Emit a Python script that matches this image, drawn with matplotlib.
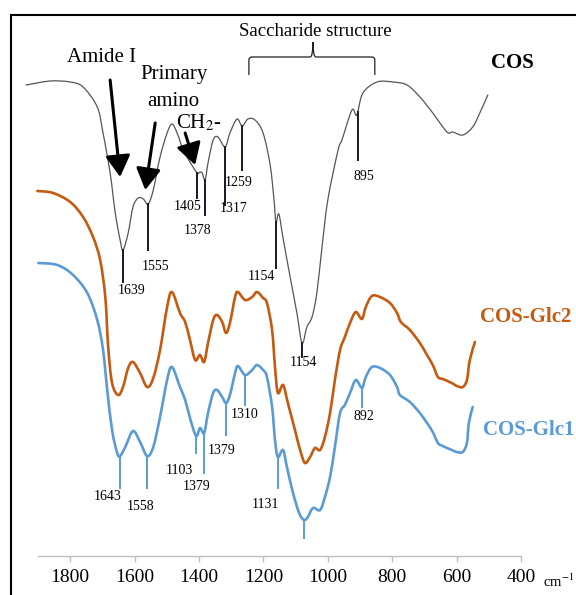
import numpy as np
import matplotlib
matplotlib.use("Agg")
import matplotlib.pyplot as plt
from matplotlib.path import Path
from matplotlib.patches import PathPatch
from matplotlib.lines import Line2D

plt.rcParams['font.family'] = ['Liberation Serif', 'DejaVu Serif']
plt.rcParams['mathtext.fontset'] = 'stix'

# FTIR spectra, wavenumber (cm-1) vs transmittance (a.u., curves offset)
wn_cos = [1937, 1862, 1800, 1760, 1716, 1698, 1676, 1660, 1645, 1636, 1620, 1605,
          1589, 1573, 1558, 1542, 1521, 1499, 1484, 1468, 1449, 1428, 1406, 1397,
          1390, 1381, 1372, 1356, 1341, 1319, 1304, 1282, 1266, 1248, 1226, 1201,
          1179, 1167, 1161, 1152, 1139, 1117, 1096, 1080, 1065, 1049, 1034, 1018,
          1000, 968, 956, 925, 910, 891, 847, 798, 754, 714, 674, 630, 612, 581,
          550, 528, 503]
t_cos = [471, 475, 474, 469, 449, 423, 383, 343, 316, 306, 323, 349,
         358, 357, 352, 366, 399, 423, 432, 423, 406, 394, 383, 384,
         383, 376, 393, 416, 419, 409, 423, 437, 430, 437, 436, 423,
         391, 356, 334, 342, 318, 279, 243, 213, 229, 239, 263, 309,
         356, 406, 416, 446, 441, 463, 474, 474, 471, 459, 443, 424, 424, 421,
         429, 443, 461]

wn_glc2 = [1902, 1853, 1800, 1760, 1729, 1707, 1691, 1682, 1670, 1651, 1636, 1620,
           1605, 1583, 1561, 1542, 1521, 1499, 1484, 1459, 1443, 1428, 1412, 1397,
           1384, 1372, 1356, 1344, 1328, 1316, 1304, 1288, 1279, 1257, 1235, 1220,
           1201, 1189, 1173, 1164, 1155, 1139, 1124, 1102, 1086, 1071, 1055, 1040,
           1024, 1009, 993, 978, 962, 947, 931, 913, 894, 882, 863, 838, 807, 785,
           773, 745, 714, 692, 674, 658, 643, 615, 599, 581, 568, 559, 543]
t_glc2 = [365, 363, 354, 339, 319, 296, 259, 209, 173, 161, 169, 188,
          194, 183, 169, 178, 206, 249, 264, 243, 234, 216, 196, 201,
          194, 213, 236, 241, 234, 223, 233, 259, 264, 256, 259, 264,
          258, 253, 226, 189, 163, 171, 153, 126, 106, 93, 99, 108,
          106, 119, 143, 176, 206, 219, 233, 244, 237, 249, 260, 259, 253, 243,
          234, 226, 213, 201, 191, 179, 177, 173, 170, 169, 176, 196, 214]

wn_glc1 = [1899, 1840, 1791, 1747, 1716, 1698, 1685, 1670, 1654, 1645, 1629, 1605,
           1583, 1561, 1542, 1521, 1499, 1484, 1459, 1443, 1428, 1409, 1397, 1384,
           1372, 1356, 1344, 1328, 1316, 1304, 1288, 1279, 1257, 1235, 1220, 1201,
           1189, 1173, 1164, 1155, 1139, 1127, 1108, 1089, 1074, 1062, 1046, 1024,
           1009, 993, 978, 962, 947, 931, 913, 894, 882, 863, 838, 807, 785, 776,
           745, 714, 692, 674, 658, 643, 615, 599, 581, 568, 562, 550]
t_glc1 = [293, 291, 281, 263, 236, 206, 166, 126, 103, 100, 109, 125,
          114, 100, 109, 139, 176, 189, 169, 156, 138, 120, 128, 123,
          143, 163, 166, 159, 153, 161, 183, 190, 181, 186, 191, 186,
          179, 149, 116, 99, 106, 89, 63, 43, 36, 39, 48, 46,
          59, 79, 109, 143, 151, 163, 176, 168, 179, 189, 188, 181, 169, 161,
          154, 143, 133, 124, 113, 110, 106, 104, 104, 113, 133, 149]

# peak markers: label, position, line bottom, label centre (wn, t)
cos_peaks = [('1639', 1636, 274, 1609, 265),
             ('1555', 1558, 306, 1536, 289),
             ('1405', 1406, 358, 1434, 349),
             ('1378', 1381, 341, 1406, 326),
             ('1317', 1319, 351, 1291, 348),
             ('1259', 1266, 386, 1276, 374),
             ('1154', 1161, 288, 1207, 280),
             ('1154', 1080, 199, 1077, 193),
             ('895', 907, 396, 888, 379)]
glc1_peaks = [('1643', 1645, 68, 1685, 59),
              ('1558', 1561, 68, 1580, 50),
              ('1103', 1409, 103, 1462, 86),
              ('1379', 1384, 83, 1406, 69),
              ('1379', 1316, 121, 1331, 105),
              ('1310', 1257, 151, 1257, 142),
              ('1131', 1155, 68, 1195, 51),
              ('', 1074, 18, 1074, 18),
              ('892', 894, 149, 888, 139)]

ticks = [1800, 1600, 1400, 1200, 1000, 800, 600, 400]

gray = '#555555'
orange = '#C55A11'
blue = '#5B9BD5'
dark = '#15182a'

fig = plt.figure(figsize=(5.76, 5.95), dpi=100)
ax = fig.add_axes([38 / 576, 39 / 595, 483 / 576, 556 / 595])
ax.set_xlim(1900, 400)
ax.set_ylim(0, 556)


def smooth_line(wn, t, color, lw):
    # draw the spectrum as a Catmull-Rom bezier through the read points
    p = np.column_stack([wn, t]).astype(float)
    q = np.vstack([p[0], p, p[-1]])
    verts = [p[0]]
    codes = [Path.MOVETO]
    for i in range(1, len(q) - 2):
        c1 = q[i] + (q[i + 1] - q[i - 1]) / 6
        c2 = q[i + 1] - (q[i + 2] - q[i]) / 6
        verts += [c1, c2, q[i + 1]]
        codes += [Path.CURVE4] * 3
    ax.add_patch(PathPatch(Path(verts, codes), fill=False, edgecolor=color, lw=lw,
                           capstyle='round', joinstyle='round', clip_on=False))


smooth_line(wn_cos, t_cos, gray, 0.9)
smooth_line(wn_glc2, t_glc2, orange, 1.9)
smooth_line(wn_glc1, t_glc1, blue, 1.9)


def mark_peaks(wn, t, peaks, color):
    xs = np.array(wn[::-1], dtype=float)
    ys = np.array(t[::-1], dtype=float)
    for label, pos, bottom, lx, ly in peaks:
        top = np.interp(pos, xs, ys)
        ax.plot([pos, pos], [top, bottom], color=color, lw=1.4, clip_on=False)
        if label:
            ax.text(lx, ly, label, fontsize=10, ha='center', va='center')


mark_peaks(wn_cos, t_cos, cos_peaks, dark)
mark_peaks(wn_glc1, t_glc1, glc1_peaks, blue)

# arrows for the assigned bands
arrow = dict(arrowstyle='-|>,head_length=1.3,head_width=0.75', lw=2.2,
             color='black', mutation_scale=10, shrinkA=0, shrinkB=0)
ax.annotate('', xy=(1645, 379), xytext=(1676, 476), arrowprops=arrow)
ax.annotate('', xy=(1567, 366), xytext=(1536, 433), arrowprops=arrow)
ax.annotate('', xy=(1412, 391), xytext=(1443, 423), arrowprops=arrow)

ax.text(1809, 498, 'Amide I', fontsize=15, ha='left', va='center')
ax.text(1477, 482, 'Primary', fontsize=15, ha='center', va='center')
ax.text(1480, 454, 'amino', fontsize=15, ha='center', va='center')
ax.text(1471, 433, r'CH$_2$-', fontsize=15, ha='left', va='center')
ax.text(1040, 524, 'Saccharide structure', fontsize=13.5, ha='center', va='center')

# brace over the saccharide region
verts = [(1245, 481), (1245, 496), (1245, 499), (1236, 499), (1055, 499),
         (1046, 499), (1046, 514), (1046, 499), (1037, 499), (863, 499),
         (854, 499), (854, 496), (854, 481)]
codes = [Path.MOVETO, Path.LINETO, Path.CURVE3, Path.CURVE3, Path.LINETO,
         Path.CURVE3, Path.CURVE3, Path.CURVE3, Path.CURVE3, Path.LINETO,
         Path.CURVE3, Path.CURVE3, Path.LINETO]
ax.add_patch(PathPatch(Path(verts, codes), fill=False, lw=0.9, color='#222222',
                       clip_on=False))

ax.text(428, 493, 'COS', fontsize=15, fontweight='bold', ha='center', va='center')
ax.text(528, 239, 'COS-Glc2', fontsize=15, fontweight='bold', color=orange,
        ha='left', va='center')
ax.text(519, 126, 'COS-Glc1', fontsize=15, fontweight='bold', color=blue,
        ha='left', va='center')

for s in ['top', 'left', 'right']:
    ax.spines[s].set_visible(False)
ax.spines['bottom'].set_color('#bfbfbf')
ax.spines['bottom'].set_linewidth(1.0)
ax.set_yticks([])
ax.set_xticks(ticks)
ax.tick_params(axis='x', direction='out', length=4.5, width=1.0, color='#bfbfbf',
               labelsize=14, pad=5)
ax.patch.set_visible(False)
ax.text(331, -25, r'cm$^{-1}$', fontsize=10.5, ha='left', va='center')

# outer frame
fig.add_artist(Line2D([11 / 576, 11 / 576], [0, 1 - 15 / 595], color='black', lw=1.5))
fig.add_artist(Line2D([11 / 576, 1], [1 - 15 / 595, 1 - 15 / 595], color='black', lw=1.5))

fig.savefig('out.png', dpi=100)
